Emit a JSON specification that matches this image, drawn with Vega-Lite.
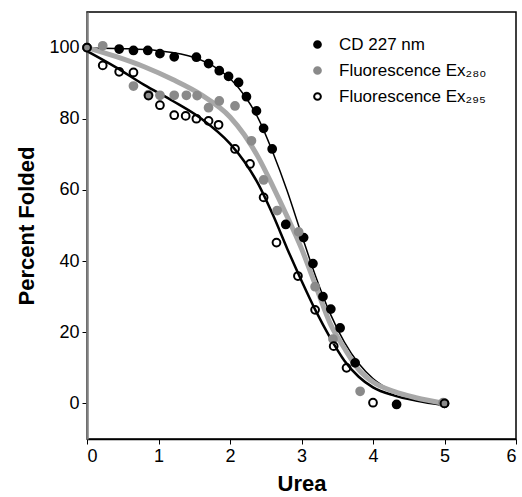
{
  "$schema": "https://vega.github.io/schema/vega-lite/v6.json",
  "autosize": "none",
  "width": 429,
  "height": 427,
  "padding": {"left": 87, "top": 12, "right": 6, "bottom": 58},
  "config": {
    "font": "Liberation Sans",
    "view": {"stroke": "black", "strokeWidth": 1.5},
    "axis": {"grid": false, "labelFont": "Liberation Sans", "titleFont": "Liberation Sans", "labelColor": "black", "titleColor": "black", "tickColor": "black", "tickSize": 5, "labelFontSize": 18, "titleFontSize": 22, "titleFontWeight": "bold"}
  },
  "datasets": {
    "points": [
      {"series": "CD 227 nm", "x": 0, "y": 100},
      {"series": "CD 227 nm", "x": 0.45, "y": 99.6},
      {"series": "CD 227 nm", "x": 0.65, "y": 99.2},
      {"series": "CD 227 nm", "x": 0.85, "y": 99.2},
      {"series": "CD 227 nm", "x": 1.02, "y": 98.3},
      {"series": "CD 227 nm", "x": 1.22, "y": 97.4},
      {"series": "CD 227 nm", "x": 1.53, "y": 97.3},
      {"series": "CD 227 nm", "x": 1.7, "y": 95.5},
      {"series": "CD 227 nm", "x": 1.85, "y": 93.5},
      {"series": "CD 227 nm", "x": 1.98, "y": 91.9},
      {"series": "CD 227 nm", "x": 2.12, "y": 90.2},
      {"series": "CD 227 nm", "x": 2.23, "y": 86.2},
      {"series": "CD 227 nm", "x": 2.37, "y": 82.2},
      {"series": "CD 227 nm", "x": 2.47, "y": 77.3},
      {"series": "CD 227 nm", "x": 2.59, "y": 71.5},
      {"series": "CD 227 nm", "x": 2.78, "y": 50.3},
      {"series": "CD 227 nm", "x": 3.03, "y": 46.6},
      {"series": "CD 227 nm", "x": 3.16, "y": 39.3},
      {"series": "CD 227 nm", "x": 3.3, "y": 30},
      {"series": "CD 227 nm", "x": 3.41, "y": 26.5},
      {"series": "CD 227 nm", "x": 3.54, "y": 21.2},
      {"series": "CD 227 nm", "x": 3.75, "y": 11.4},
      {"series": "CD 227 nm", "x": 4.33, "y": -0.3},
      {"series": "CD 227 nm", "x": 5.0, "y": 0},
      {"series": "Fluorescence Ex₂₈₀", "x": 0, "y": 100},
      {"series": "Fluorescence Ex₂₈₀", "x": 0.22, "y": 100.5},
      {"series": "Fluorescence Ex₂₈₀", "x": 0.65, "y": 89.2},
      {"series": "Fluorescence Ex₂₈₀", "x": 0.86, "y": 86.8},
      {"series": "Fluorescence Ex₂₈₀", "x": 1.02, "y": 86.6},
      {"series": "Fluorescence Ex₂₈₀", "x": 1.22, "y": 86.6},
      {"series": "Fluorescence Ex₂₈₀", "x": 1.39, "y": 86.6},
      {"series": "Fluorescence Ex₂₈₀", "x": 1.54, "y": 86.5},
      {"series": "Fluorescence Ex₂₈₀", "x": 1.7, "y": 83.1},
      {"series": "Fluorescence Ex₂₈₀", "x": 1.85, "y": 85},
      {"series": "Fluorescence Ex₂₈₀", "x": 2.07, "y": 83.6},
      {"series": "Fluorescence Ex₂₈₀", "x": 2.3, "y": 73.8},
      {"series": "Fluorescence Ex₂₈₀", "x": 2.47, "y": 62.8},
      {"series": "Fluorescence Ex₂₈₀", "x": 2.66, "y": 54.2},
      {"series": "Fluorescence Ex₂₈₀", "x": 2.96, "y": 48.2},
      {"series": "Fluorescence Ex₂₈₀", "x": 3.19, "y": 32.8},
      {"series": "Fluorescence Ex₂₈₀", "x": 3.44, "y": 18.1},
      {"series": "Fluorescence Ex₂₈₀", "x": 3.82, "y": 3.4},
      {"series": "Fluorescence Ex₂₈₀", "x": 4.98, "y": 0.2},
      {"series": "Fluorescence Ex₂₉₅", "x": 0, "y": 100},
      {"series": "Fluorescence Ex₂₉₅", "x": 0.22, "y": 95},
      {"series": "Fluorescence Ex₂₉₅", "x": 0.45, "y": 93.2},
      {"series": "Fluorescence Ex₂₉₅", "x": 0.65, "y": 93},
      {"series": "Fluorescence Ex₂₉₅", "x": 0.86, "y": 86.5},
      {"series": "Fluorescence Ex₂₉₅", "x": 1.02, "y": 83.8},
      {"series": "Fluorescence Ex₂₉₅", "x": 1.22, "y": 81},
      {"series": "Fluorescence Ex₂₉₅", "x": 1.38, "y": 80.8},
      {"series": "Fluorescence Ex₂₉₅", "x": 1.53, "y": 80},
      {"series": "Fluorescence Ex₂₉₅", "x": 1.7, "y": 79.4},
      {"series": "Fluorescence Ex₂₉₅", "x": 1.84, "y": 78.3},
      {"series": "Fluorescence Ex₂₉₅", "x": 2.07, "y": 71.5},
      {"series": "Fluorescence Ex₂₉₅", "x": 2.28, "y": 67.3},
      {"series": "Fluorescence Ex₂₉₅", "x": 2.47, "y": 57.9},
      {"series": "Fluorescence Ex₂₉₅", "x": 2.65, "y": 45.2},
      {"series": "Fluorescence Ex₂₉₅", "x": 2.95, "y": 35.8},
      {"series": "Fluorescence Ex₂₉₅", "x": 3.19, "y": 26.3},
      {"series": "Fluorescence Ex₂₉₅", "x": 3.45, "y": 16.1},
      {"series": "Fluorescence Ex₂₉₅", "x": 3.63, "y": 10},
      {"series": "Fluorescence Ex₂₉₅", "x": 4.0, "y": 0.2},
      {"series": "Fluorescence Ex₂₉₅", "x": 5.0, "y": 0}
    ],
    "curves": [
      {"fit": "cd", "x": 0, "y": 99.9},
      {"fit": "cd", "x": 0.5, "y": 99.7},
      {"fit": "cd", "x": 1.0, "y": 99.1},
      {"fit": "cd", "x": 1.5, "y": 97.2},
      {"fit": "cd", "x": 1.8, "y": 94.4},
      {"fit": "cd", "x": 2.0, "y": 91.3},
      {"fit": "cd", "x": 2.2, "y": 86.6},
      {"fit": "cd", "x": 2.4, "y": 79.9},
      {"fit": "cd", "x": 2.6, "y": 70.5},
      {"fit": "cd", "x": 2.8, "y": 59.7},
      {"fit": "cd", "x": 3.0, "y": 47.5},
      {"fit": "cd", "x": 3.2, "y": 35.6},
      {"fit": "cd", "x": 3.4, "y": 25.3},
      {"fit": "cd", "x": 3.6, "y": 17.2},
      {"fit": "cd", "x": 3.8, "y": 11.2},
      {"fit": "cd", "x": 4.0, "y": 7},
      {"fit": "cd", "x": 4.3, "y": 3.2},
      {"fit": "cd", "x": 4.6, "y": 1.2},
      {"fit": "cd", "x": 5.0, "y": -0.5},
      {"fit": "f280", "x": 0, "y": 100},
      {"fit": "f280", "x": 0.4, "y": 97.5},
      {"fit": "f280", "x": 0.8, "y": 94.6},
      {"fit": "f280", "x": 1.2, "y": 91},
      {"fit": "f280", "x": 1.6, "y": 86.7},
      {"fit": "f280", "x": 2.0, "y": 80.5},
      {"fit": "f280", "x": 2.2, "y": 75.5},
      {"fit": "f280", "x": 2.4, "y": 69},
      {"fit": "f280", "x": 2.6, "y": 61},
      {"fit": "f280", "x": 2.8, "y": 52.5},
      {"fit": "f280", "x": 3.0, "y": 43.5},
      {"fit": "f280", "x": 3.2, "y": 33},
      {"fit": "f280", "x": 3.4, "y": 22.5},
      {"fit": "f280", "x": 3.6, "y": 15.5},
      {"fit": "f280", "x": 3.8, "y": 9.5},
      {"fit": "f280", "x": 4.0, "y": 6},
      {"fit": "f280", "x": 4.3, "y": 3.3},
      {"fit": "f280", "x": 4.6, "y": 1.6},
      {"fit": "f280", "x": 5.0, "y": 0},
      {"fit": "f295", "x": 0, "y": 99},
      {"fit": "f295", "x": 0.4, "y": 94.5},
      {"fit": "f295", "x": 0.8, "y": 89.5},
      {"fit": "f295", "x": 1.2, "y": 85},
      {"fit": "f295", "x": 1.6, "y": 80},
      {"fit": "f295", "x": 2.0, "y": 73},
      {"fit": "f295", "x": 2.2, "y": 68},
      {"fit": "f295", "x": 2.4, "y": 61.5},
      {"fit": "f295", "x": 2.6, "y": 53},
      {"fit": "f295", "x": 2.8, "y": 43.5},
      {"fit": "f295", "x": 3.0, "y": 34.5},
      {"fit": "f295", "x": 3.2, "y": 26},
      {"fit": "f295", "x": 3.4, "y": 18.5},
      {"fit": "f295", "x": 3.6, "y": 12},
      {"fit": "f295", "x": 3.8, "y": 7.5},
      {"fit": "f295", "x": 4.0, "y": 4.5},
      {"fit": "f295", "x": 4.3, "y": 2.2},
      {"fit": "f295", "x": 4.6, "y": 0.8},
      {"fit": "f295", "x": 5.0, "y": -0.5}
    ]
  },
  "encoding": {
    "x": {"field": "x", "type": "quantitative", "scale": {"domain": [0, 6], "nice": false, "zero": false},
          "axis": {"title": "Urea", "values": [0, 1, 2, 3, 4, 5, 6], "domainColor": "black", "domainWidth": 1.5, "labelPadding": 3, "titlePadding": 8}},
    "y": {"field": "y", "type": "quantitative", "scale": {"domain": [-10, 110], "nice": false, "zero": false},
          "axis": {"title": "Percent Folded", "values": [0, 20, 40, 60, 80, 100], "domainColor": "#7f7f7f", "domainWidth": 2.5, "labelPadding": 3, "titlePadding": 10}}
  },
  "layer": [
    {"data": {"name": "curves"}, "transform": [{"filter": "datum.fit == 'f295'"}],
     "mark": {"type": "line", "color": "black", "strokeWidth": 2.5, "interpolate": "monotone"}, "encoding": {}},
    {"data": {"name": "curves"}, "transform": [{"filter": "datum.fit == 'cd'"}],
     "mark": {"type": "line", "color": "black", "strokeWidth": 1.5, "interpolate": "monotone"}, "encoding": {}},
    {"data": {"name": "curves"}, "transform": [{"filter": "datum.fit == 'f280'"}],
     "mark": {"type": "line", "color": "#a8a8a8", "strokeWidth": 5, "interpolate": "monotone"}, "encoding": {}},
    {"data": {"name": "points"},
     "mark": {"type": "point", "shape": "circle", "size": 60, "strokeWidth": 2, "opacity": 1},
     "encoding": {
       "fill": {"field": "series", "type": "nominal",
                "scale": {"domain": ["CD 227 nm", "Fluorescence Ex₂₈₀", "Fluorescence Ex₂₉₅"], "range": ["black", "#8a8a8a", "transparent"]},
                "legend": {"title": null, "orient": "none", "legendX": 222, "legendY": 24, "padding": 0,
                           "labelFontSize": 17, "labelFont": "Liberation Sans", "labelColor": "black", "labelOffset": 13,
                           "symbolSize": 45, "symbolStrokeWidth": 2, "rowPadding": 8}},
       "stroke": {"field": "series", "type": "nominal",
                  "scale": {"domain": ["CD 227 nm", "Fluorescence Ex₂₈₀", "Fluorescence Ex₂₉₅"], "range": ["black", "#8a8a8a", "black"]},
                  "legend": {"title": null, "orient": "none", "legendX": 222, "legendY": 24, "padding": 0,
                           "labelFontSize": 17, "labelFont": "Liberation Sans", "labelColor": "black", "labelOffset": 13,
                           "symbolSize": 45, "symbolStrokeWidth": 2, "rowPadding": 8}}
     }}
  ]
}
